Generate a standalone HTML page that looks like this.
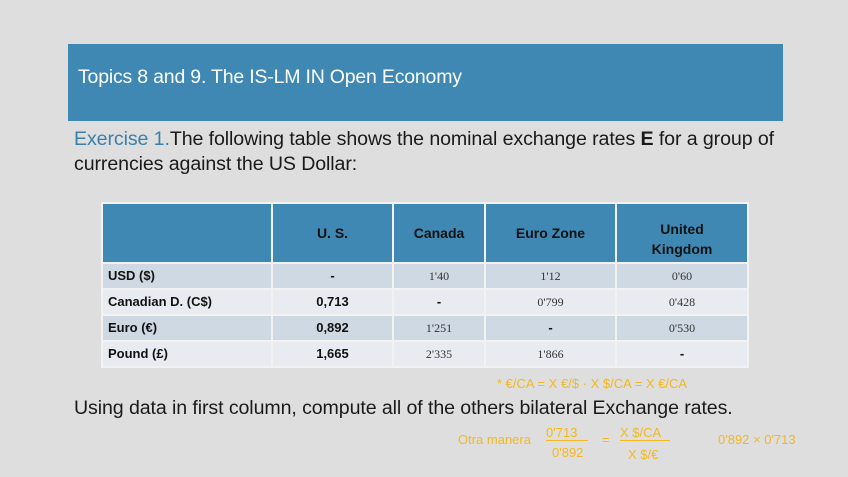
<!DOCTYPE html>
<html><head><style>
body{margin:0;width:848px;height:477px;background:#dedede;position:relative;overflow:hidden;font-family:"Liberation Sans",sans-serif;}
.bar{position:absolute;left:68px;top:44px;width:715px;height:77px;background:#3f88b4;}
.t{position:absolute;color:#fff;font-size:19.5px;left:78px;top:66px;letter-spacing:-0.2px}
.ex{position:absolute;left:74px;top:127px;font-size:19.6px;color:#1a1a1a;line-height:25px;width:740px;letter-spacing:-0.1px}
.ex .b{color:#3b7fa8}
table{position:absolute;left:101px;top:202px;border-collapse:collapse;font-size:13px;font-weight:bold;color:#111;table-layout:fixed;width:646px}
td{border:2px solid #f2f2f2;padding:0;text-align:center;overflow:hidden;line-height:16px}
tr.h td{background:#3f88b4;height:58px;font-size:14px;color:#111}
tr.r1 td,tr.r3 td{background:#cfd9e3;height:24px}
tr.r2 td,tr.r4 td{background:#e8ecf0;height:24px}
td.l{text-align:left;padding-left:5px}
.hw{font-weight:normal;font-size:12px;color:#333;font-family:"Liberation Serif",serif}
.last{position:absolute;left:74px;top:397px;font-size:19.6px;color:#1a1a1a;letter-spacing:-0.1px}
.y{position:absolute;color:#f2b820;font-size:13px;font-family:"Liberation Sans",sans-serif}
</style></head><body>
<div class="bar"></div>
<div class="t">Topics 8 and 9. The IS-LM IN Open Economy</div>
<div class="ex"><span class="b">Exercise 1.</span>The following table shows the nominal exchange rates <b>E</b> for a group of currencies against the US Dollar:</div>
<table>
<colgroup><col style="width:170px"><col style="width:121px"><col style="width:92px"><col style="width:131px"><col style="width:132px"></colgroup>
<tr class="h"><td></td><td>U. S.</td><td>Canada</td><td>Euro Zone</td><td style="padding-top:12px;height:46px;line-height:20px">United<br>Kingdom</td></tr>
<tr class="r1"><td class="l">USD ($)</td><td>-</td><td class="hw">1'40</td><td class="hw">1'12</td><td class="hw">0'60</td></tr>
<tr class="r2"><td class="l">Canadian D. (C$)</td><td>0,713</td><td>-</td><td class="hw">0'799</td><td class="hw">0'428</td></tr>
<tr class="r3"><td class="l">Euro (€)</td><td>0,892</td><td class="hw">1'251</td><td>-</td><td class="hw">0'530</td></tr>
<tr class="r4"><td class="l">Pound (£)</td><td>1,665</td><td class="hw">2'335</td><td class="hw">1'866</td><td>-</td></tr>
</table>
<div class="last">Using data in first column, compute all of the others bilateral Exchange rates.</div>
<div class="y" style="left:497px;top:376px">* €/CA = X €/$ · X $/CA = X €/CA</div>
<div class="y" style="left:458px;top:432px">Otra manera</div>
<div class="y" style="left:546px;top:425px;border-bottom:1px solid #f2b820;width:42px">0'713</div>
<div class="y" style="left:552px;top:445px">0'892</div>
<div class="y" style="left:602px;top:432px">=</div>
<div class="y" style="left:620px;top:425px;border-bottom:1px solid #f2b820;width:50px">X $/CA</div>
<div class="y" style="left:628px;top:447px">X $/€</div>
<div class="y" style="left:718px;top:432px">0'892 × 0'713</div>
</body></html>
